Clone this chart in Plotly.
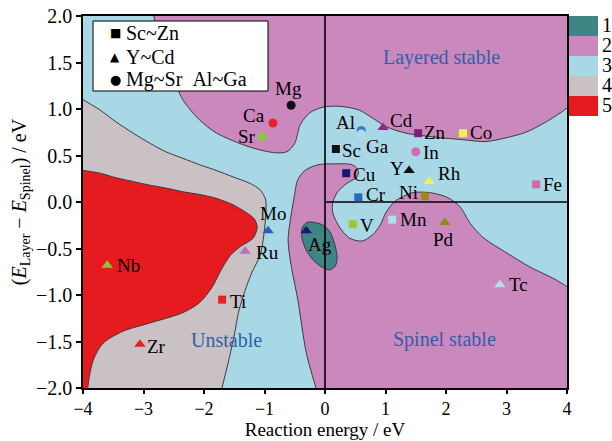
import plotly.graph_objects as go

# ---------------- data ----------------
# Square markers (Sc~Zn)
sq_names = ["Sc", "Ti", "V", "Cr", "Mn", "Fe", "Co", "Ni", "Cu", "Zn"]
sq_x = [0.18, -1.70, 0.46, 0.55, 1.11, 3.49, 2.28, 1.65, 0.35, 1.54]
sq_y = [0.57, -1.05, -0.24, 0.05, -0.19, 0.19, 0.74, 0.06, 0.31, 0.74]
sq_colors = ["#111111", "#e52222", "#9cc92e", "#2b68bf", "#aee0ea", "#d26aa8",
             "#f3ef5c", "#9a8a1e", "#141a70", "#7d1b7d"]

# Triangle markers (Y~Cd)
tr_names = ["Y", "Zr", "Nb", "Mo", "Tc", "Ru", "Rh", "Pd", "Ag", "Cd"]
tr_x = [1.39, -3.06, -3.60, -0.94, 2.89, -1.32, 1.72, 1.98, -0.31, 0.96]
tr_y = [0.34, -1.53, -0.68, -0.31, -0.89, -0.53, 0.22, -0.22, -0.31, 0.80]
tr_colors = ["#111111", "#e52222", "#8cc63f", "#2b5cc0", "#aee0ea", "#b173b9",
             "#f2ef55", "#8c8a14", "#121a72", "#8c2a8c"]

# Circle markers (Mg~Sr, Al~Ga, In)
ci_names = ["Mg", "Ca", "Sr", "Al", "Ga", "In"]
ci_x = [-0.56, -0.86, -1.04, 0.60, 0.60, 1.50]
ci_y = [1.04, 0.85, 0.70, 0.77, 0.73, 0.54]
ci_colors = ["#111111", "#e8242a", "#8cc63f", "#3a7cc4", "#acdcea", "#d06ab4"]

# Region boundaries (eV, eV)
layered_x = [-2.94, -2.83, -2.69, -2.53, -2.35, -2.07, -1.79, -1.24, -0.83, -0.63, -0.50,
             -0.41, -0.25, -0.03, 0.23, 0.56, 0.79, 1.01, 1.34, 1.79, 2.28, 2.66, 2.99,
             3.32, 3.65, 4.00, 4.30, 4.30]
layered_y = [2.30, 2.00, 1.63, 1.37, 1.10, 0.88, 0.74, 0.59, 0.53, 0.54, 0.63,
             0.83, 0.96, 1.02, 1.03, 0.99, 0.90, 0.81, 0.74, 0.70, 0.67, 0.65, 0.69,
             0.75, 0.86, 1.01, 1.20, 2.30]

spinel_x = [-0.02, -0.15, -0.31, -0.45, -0.56, -0.61, -0.56, -0.51, -0.45, -0.33, -0.12,
            0.17, 0.45, 0.55, 0.53, 0.36, 0.21, 0.13, 0.13, 0.25, 0.41, 0.61, 0.79,
            0.91, 1.01, 1.16, 1.45, 1.74, 2.02, 2.23, 2.40, 2.61, 3.01, 3.39, 3.77,
            4.00, 4.30, 4.30]
spinel_y = [-2.30, -2.00, -1.62, -1.05, -0.68, -0.41, -0.14, 0.05, 0.24, 0.34, 0.40,
            0.41, 0.40, 0.34, 0.27, 0.20, 0.11, 0.00, -0.12, -0.28, -0.39, -0.42, -0.35,
            -0.25, -0.11, 0.01, 0.10, 0.10, 0.05, -0.05, -0.23, -0.38, -0.55, -0.70, -0.82,
            -0.91, -1.05, -2.30]

grey_x = [-4.30, -4.00, -3.72, -3.45, -3.17, -2.89, -2.63, -2.35, -2.07, -1.80, -1.52,
          -1.24, -1.07, -0.98, -0.98, -1.01, -1.07, -1.21, -1.32, -1.42, -1.50, -1.59,
          -1.65, -1.70, -1.73, -4.30]
grey_y = [1.22, 1.10, 0.99, 0.86, 0.74, 0.63, 0.54, 0.47, 0.40, 0.34, 0.27,
          0.20, 0.13, 0.02, -0.14, -0.35, -0.57, -0.76, -0.95, -1.16, -1.43, -1.70,
          -1.86, -2.00, -2.30, -2.30]

red_x = [-4.30, -4.00, -3.72, -3.45, -3.17, -2.89, -2.63, -2.35, -2.07, -1.80, -1.52,
         -1.31, -1.17, -1.12, -1.19, -1.40, -1.56, -1.70, -1.87, -2.07, -2.35, -2.89,
         -3.34, -3.67, -3.83, -3.92, -3.90, -4.30]
red_y = [0.37, 0.34, 0.31, 0.26, 0.22, 0.18, 0.15, 0.11, 0.08, 0.04, -0.03,
         -0.11, -0.18, -0.27, -0.39, -0.48, -0.57, -0.71, -0.92, -1.08, -1.19, -1.30,
         -1.39, -1.52, -1.70, -2.00, -2.30, -2.30]

teal_x = [-0.30, -0.17, -0.03, 0.08, 0.15, 0.20, 0.17, 0.08, -0.05, -0.20, -0.31,
          -0.38, -0.38, -0.30]
teal_y = [-0.22, -0.22, -0.25, -0.32, -0.43, -0.59, -0.69, -0.73, -0.70, -0.62, -0.52,
          -0.39, -0.28, -0.22]

region_texts = ["Layered stable", "Unstable", "Spinel stable"]
region_text_x = [1.92, -1.62, 1.97]
region_text_y = [1.55, -1.48, -1.48]

colorbar_labels = ["1", "2", "3", "4", "5"]
legend_labels = ["Sc~Zn", "Y~Cd", "Mg~Sr\u00a0\u00a0Al~Ga"]
legend_symbols = ["\u25a0", "\u25b2", "\u25cf"]

# ---------------- styles ----------------
C1, C2, C3, C4, C5 = "#3f8585", "#cb88bd", "#a8d8e6", "#c9c1c3", "#e51b1f"
level_colors = [C1, C2, C3, C4, C5]
EDGE = "#3a3a3a"
FONT = "Liberation Serif"
TEXT_BLUE = "#2f5fa8"

W, H = 612, 441
ML, MR, MT, MB = 83, 45, 16, 53
PW, PH = W - ML - MR, H - MT - MB


def px_x(p):  # pixel -> paper x
    return (p - ML) / PW


def px_y(p):  # pixel -> paper y
    return (H - MB - p) / PH


# label offsets in pixels (dx right, dy down) relative to each marker
label_offsets = {
    "Mg": (-3, -17), "Ca": (-19, -7), "Sr": (-15, 0), "Al": (-16, -8), "Ga": (16, 12),
    "Cd": (18, -7), "Zn": (17, -1), "Co": (18, -1), "Sc": (16, 2), "In": (15, 1),
    "Y": (-12, -2), "Rh": (20, -8), "Fe": (16, 0), "Cu": (18, 1), "Cr": (18, -3),
    "Ni": (-16, -4), "V": (14, 1), "Mn": (21, 0), "Pd": (-1, 17), "Tc": (19, 0),
    "Ag": (14, 14), "Mo": (5, -17), "Ru": (22, 1), "Nb": (21, 0), "Ti": (16, 2),
    "Zr": (17, 2),
}

fig = go.Figure()


def region(xs, ys, color):
    fig.add_trace(go.Scatter(
        x=xs, y=ys, mode="lines", fill="toself", fillcolor=color,
        line=dict(color=EDGE, width=1, shape="spline", smoothing=0.8),
        showlegend=False, hoverinfo="skip"))


region(layered_x, layered_y, C2)
region(spinel_x, spinel_y, C2)
region(grey_x, grey_y, C4)
region(red_x, red_y, C5)
region(teal_x, teal_y, C1)

# reference lines
fig.add_trace(go.Scatter(x=[0, 0], y=[-2, 2], mode="lines",
                         line=dict(color="black", width=1.6),
                         showlegend=False, hoverinfo="skip"))
fig.add_trace(go.Scatter(x=[0, 4], y=[0, 0], mode="lines",
                         line=dict(color="black", width=1.6),
                         showlegend=False, hoverinfo="skip"))

# markers
for nm, xs, ys, cols, sym, size in [
        ("Mg~Sr Al~Ga", ci_x, ci_y, ci_colors, "circle", 9),
        ("Sc~Zn", sq_x, sq_y, sq_colors, "square", 8),
        ("Y~Cd", tr_x, tr_y, tr_colors, "triangle-up", 10)]:
    fig.add_trace(go.Scatter(x=xs, y=ys, mode="markers", name=nm,
                             marker=dict(symbol=sym, size=size, color=cols,
                                         line=dict(width=0)),
                             showlegend=False))

shapes = []
annotations = []

# legend box (drawn by hand so that its rows match the reference spacing)
shapes.append(dict(type="rect", xref="paper", yref="paper",
                   x0=px_x(93), x1=px_x(268), y0=px_y(91), y1=px_y(21),
                   fillcolor="white", line=dict(color="black", width=1), layer="above"))
leg_rows = [33, 57, 80]
leg_sym_size = [12, 12, 13]
for lab, sym, row, ss in zip(legend_labels, legend_symbols, leg_rows, leg_sym_size):
    annotations.append(dict(xref="paper", yref="paper", x=px_x(115), y=px_y(row),
                            text=sym, showarrow=False, xanchor="center", yanchor="middle",
                            font=dict(family="DejaVu Sans", size=ss, color="black")))
    annotations.append(dict(xref="paper", yref="paper", x=px_x(124), y=px_y(row),
                            text=lab, showarrow=False, xanchor="left", yanchor="middle",
                            font=dict(family=FONT, size=20, color="black")))

# colour key on the right
for i, (lab, col) in enumerate(zip(colorbar_labels, level_colors)):
    top = 16 + 20 * i
    shapes.append(dict(type="rect", xref="paper", yref="paper",
                       x0=px_x(569), x1=px_x(598), y0=px_y(top + 20), y1=px_y(top),
                       fillcolor=col, line=dict(width=0)))
    annotations.append(dict(xref="paper", yref="paper", x=px_x(600), y=px_y(top + 9),
                            text=lab, showarrow=False, xanchor="left", yanchor="middle",
                            font=dict(family=FONT, size=20, color="black")))

for names, xs, ys in [(sq_names, sq_x, sq_y), (tr_names, tr_x, tr_y), (ci_names, ci_x, ci_y)]:
    for n, x, y in zip(names, xs, ys):
        dx, dy = label_offsets[n]
        annotations.append(dict(x=x, y=y, text=n, showarrow=False, xanchor="center",
                                yanchor="middle", xshift=dx, yshift=-dy,
                                font=dict(family=FONT, size=19, color="black")))
for t, x, y in zip(region_texts, region_text_x, region_text_y):
    annotations.append(dict(x=x, y=y, text=t, showarrow=False,
                            font=dict(family=FONT, size=20, color=TEXT_BLUE)))

fig.update_layout(
    width=W, height=H,
    margin=dict(l=ML, r=MR, t=MT, b=MB),
    paper_bgcolor="white", plot_bgcolor=C3,
    font=dict(family=FONT, size=20, color="black"),
    showlegend=False,
    shapes=shapes,
    annotations=annotations,
    xaxis=dict(range=[-4, 4], dtick=1, tick0=-4, showgrid=False, zeroline=False,
               showline=True, linecolor="black", linewidth=1.5, mirror=True,
               ticks="outside", ticklen=4, tickwidth=1.5, tickcolor="black",
               automargin=False,
               tickfont=dict(family=FONT, size=18),
               title=dict(text="Reaction energy / eV", standoff=4,
                          font=dict(family=FONT, size=19))),
    yaxis=dict(range=[-2, 2], dtick=0.5, tick0=-2, tickformat=".1f", showgrid=False,
               zeroline=False, showline=True, linecolor="black", linewidth=1.5,
               mirror=True, ticks="outside", ticklen=5, tickwidth=1.5,
               tickcolor="black", automargin=False,
               tickfont=dict(family=FONT, size=20),
               title=dict(text="(<i>E</i><sub>Layer</sub> \u2212 <i>E</i><sub>Spinel</sub>) / eV",
                          standoff=4, font=dict(family=FONT, size=20))),
)

fig.write_html("out.html")
